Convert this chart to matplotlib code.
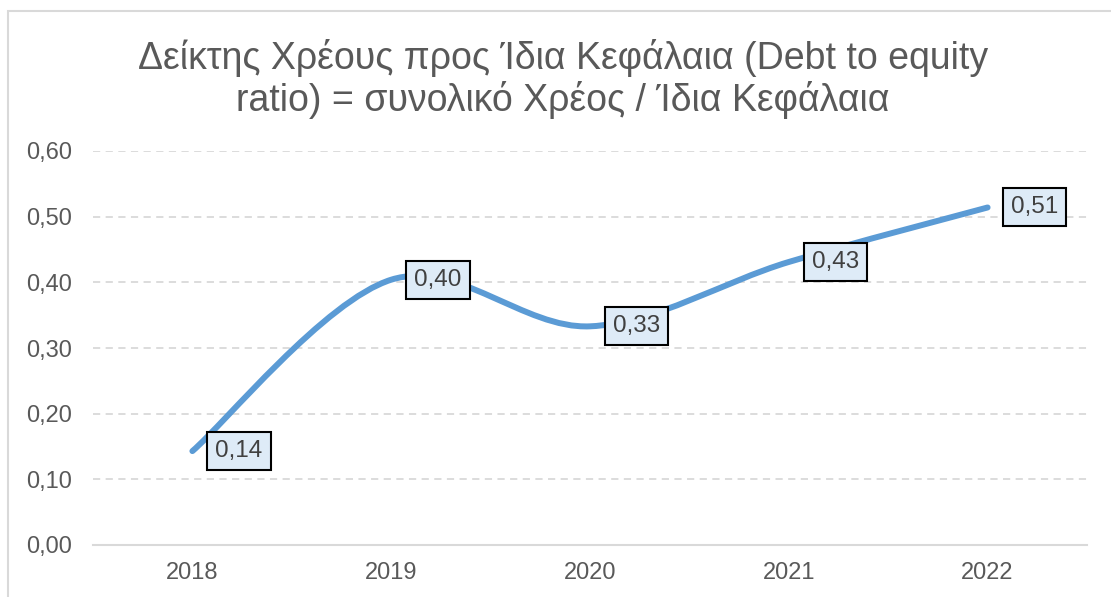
import numpy as np
import matplotlib.pyplot as plt
from matplotlib.path import Path
from matplotlib.patches import PathPatch, Rectangle

# Data
years = ['2018', '2019', '2020', '2021', '2022']
ratio = [0.143, 0.404, 0.333, 0.431, 0.514]
title = 'Δείκτης Χρέους προς Ίδια Κεφάλαια (Debt to equity\nratio) = συνολικό Χρέος / Ίδια Κεφάλαια'

plt.rcParams['font.family'] = ['Liberation Sans', 'DejaVu Sans']

text_col = '#595959'
grid_col = '#D9D9D9'
line_col = '#5B9BD5'

fig = plt.figure(figsize=(11.11, 5.97), dpi=100)
ax = fig.add_axes([93 / 1111, 1 - 545 / 597, (1087 - 93) / 1111, (545 - 151) / 597])

# outer chart border (cut off on right and bottom like the reference)
fig.patches.append(Rectangle((8 / 1111, -0.05), 1.2, 1 - 11 / 597 + 0.05,
                             transform=fig.transFigure, fill=False,
                             edgecolor=grid_col, linewidth=1.5))

# smoothed line (Catmull-Rom as cubic bezier, like Excel's smoothing)
x = np.arange(len(years), dtype=float)
y = np.array(ratio)
pts = np.column_stack([x, y])
ext = np.vstack([pts[0], pts, pts[-1]])
verts = [tuple(pts[0])]
codes = [Path.MOVETO]
for i in range(len(pts) - 1):
    p0, p1, p2, p3 = ext[i], ext[i + 1], ext[i + 2], ext[i + 3]
    c1 = p1 + (p2 - p0) / 6
    c2 = p2 - (p3 - p1) / 6
    verts += [tuple(c1), tuple(c2), tuple(p2)]
    codes += [Path.CURVE4] * 3
ax.add_patch(PathPatch(Path(verts, codes), fill=False, edgecolor=line_col,
                       linewidth=4.3, capstyle='round', joinstyle='round', zorder=3))

# data labels to the right of each point
for xi, yi in zip(x, y):
    ax.annotate(f'{yi:.2f}'.replace('.', ','), (xi, yi), xytext=(23, 0),
                textcoords='offset pixels', ha='left', va='center',
                fontsize=17.5, color='#404040', zorder=5,
                bbox=dict(boxstyle='square,pad=0.33', facecolor='#DEEBF7',
                          edgecolor='black', linewidth=1.5))

ax.set_xlim(-0.5, len(years) - 0.5)
ax.set_ylim(0, 0.6)
ax.set_xticks(x)
ax.set_xticklabels(years)
ax.set_yticks(np.arange(0, 0.61, 0.1))
ax.set_yticklabels([f'{v:.2f}'.replace('.', ',') for v in np.arange(0, 0.61, 0.1)])
ax.tick_params(length=0, labelsize=17, labelcolor=text_col)
ax.tick_params(axis='y', pad=15)
ax.tick_params(axis='x', pad=12)

ax.grid(axis='y', color=grid_col, linestyle=(0, (4, 3)), linewidth=1.3)
ax.set_axisbelow(True)
for s in ['top', 'right', 'left']:
    ax.spines[s].set_visible(False)
ax.spines['bottom'].set_color(grid_col)
ax.spines['bottom'].set_linewidth(1.5)
ax.spines['bottom'].set_zorder(1)

fig.text(563 / 1111, 1 - 79 / 597, title, ha='center', va='center',
         fontsize=27, color=text_col, linespacing=1.12)

fig.savefig('out.png', dpi=100)
